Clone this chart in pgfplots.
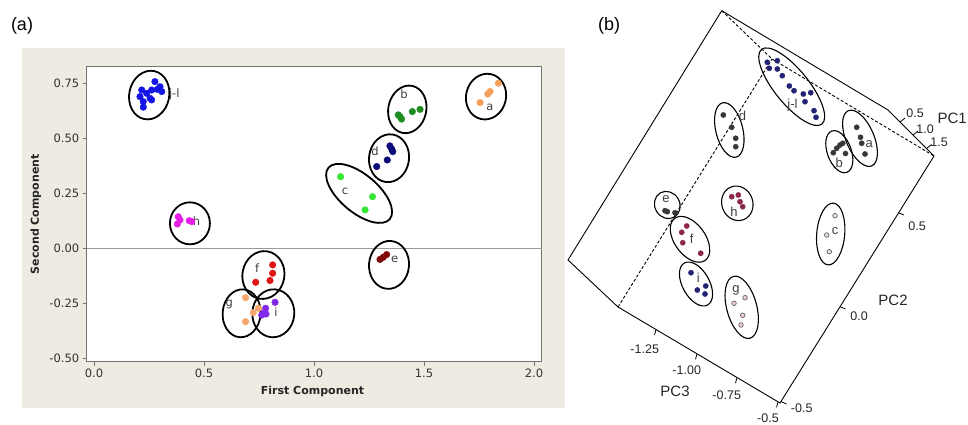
\documentclass[border=0pt]{standalone}
\usepackage{fontspec}
\setmainfont{DejaVu Sans}
\newfontfamily\arialf{Liberation Sans}
\usepackage{pgfplots}
\pgfplotsset{compat=1.18}
\usetikzlibrary{shapes.geometric}

\definecolor{beige}{RGB}{238,235,226}
\definecolor{ajl}{RGB}{20,20,230}
\definecolor{ah}{RGB}{230,30,230}
\definecolor{aa}{RGB}{245,160,90}
\definecolor{ab}{RGB}{30,140,30}
\definecolor{ad}{RGB}{10,10,120}
\definecolor{ac}{RGB}{50,230,50}
\definecolor{ae}{RGB}{128,10,10}
\definecolor{af}{RGB}{225,20,20}
\definecolor{ag}{RGB}{245,165,110}
\definecolor{ai}{RGB}{130,40,230}
\definecolor{bnavy}{RGB}{35,35,115}
\definecolor{bgrey}{RGB}{55,55,55}
\definecolor{bmaroon}{RGB}{140,40,70}
\definecolor{bpink}{RGB}{240,205,205}
\definecolor{bpale}{RGB}{215,230,215}

\tikzset{
  ellA/.style={draw=black, ellipse, inner sep=0pt, outer sep=0pt, line width=1.8pt},
  ellB/.style={draw=black, ellipse, inner sep=0pt, outer sep=0pt, line width=1.1pt},
  labA/.style={font=\fontsize{11.5}{13}\selectfont, text=black!75},
  labB/.style={font=\arialf\fontsize{13}{15}\selectfont, text=black!75},
  tlB/.style={font=\arialf\fontsize{12.5}{14}\selectfont, text=black!85},
  pcB/.style={font=\arialf\fontsize{15}{17}\selectfont, text=black!85},
}
\newcommand\EA[5]{\node[ellA, minimum width=#3pt, minimum height=#4pt, rotate=#5] at (axis cs:#1,#2) {};}
\newcommand\EB[5]{\node[ellB, minimum width=#3pt, minimum height=#4pt, rotate=#5] at (axis cs:#1,#2) {};}

\begin{document}
\begin{tikzpicture}[x=1pt,y=1pt]
\useasboundingbox (0,0) rectangle (968,425);
\fill[beige] (22,17) rectangle (565,377);
\node[font=\arialf\fontsize{18}{20}\selectfont] at (22,399) {(a)};
\node[font=\arialf\fontsize{18}{20}\selectfont] at (609,399) {(b)};

% ---------------- panel (a)
\begin{axis}[
  at={(86.7pt,63.3pt)}, anchor=south west,
  scale only axis, width=455pt, height=295pt,
  xmin=-0.0332, xmax=2.035, ymin=-0.517, ymax=0.824,
  xtick={0,0.5,1,1.5,2}, ytick={-0.5,-0.25,0,0.25,0.5,0.75},
  tick pos=left, tick align=outside, major tick length=4pt,
  axis line style={black!55, line width=0.8pt},
  tick style={black!55, line width=0.8pt},
  axis background/.style={fill=white},
  clip=false,
  /pgf/number format/assume math mode=true,
  ticklabel style={font=\fontsize{11.5}{13}\selectfont, text=black!80},
  xticklabel style={/pgf/number format/.cd, fixed, fixed zerofill, precision=1},
  yticklabel style={/pgf/number format/.cd, fixed, fixed zerofill, precision=2},
  xlabel={First Component}, ylabel={Second Component},
  label style={font=\bfseries\fontsize{11}{13}\selectfont, text=black!85},
  xlabel style={at={(axis description cs:0.4963,-0.1017)}, anchor=center},
  ylabel style={at={(axis description cs:-0.112,0.5)}, anchor=center},
  every axis plot/.append style={only marks, mark=*, mark size=3.3pt},
]
\addplot[no marks, sharp plot, black!40, line width=0.8pt] coordinates {(-0.0332,0) (2.035,0)};
\addplot[ajl, mark options={fill=ajl}] coordinates {(0.277,0.756) (0.300,0.733) (0.262,0.718) (0.217,0.718) (0.239,0.703) (0.308,0.711) (0.209,0.688) (0.255,0.680) (0.224,0.665) (0.262,0.673) (0.224,0.640) (0.288,0.721)};
\addplot[ah, mark options={fill=ah}] coordinates {(0.383,0.142) (0.379,0.109) (0.391,0.127) (0.433,0.124) (0.444,0.120)};
\addplot[aa, mark options={fill=aa}] coordinates {(1.755,0.661) (1.800,0.711) (1.838,0.749) (1.790,0.700)};
\addplot[ab, mark options={fill=ab}] coordinates {(1.383,0.605) (1.398,0.586) (1.391,0.597) (1.447,0.620) (1.482,0.630)};
\addplot[ad, mark options={fill=ad}] coordinates {(1.345,0.464) (1.358,0.438) (1.353,0.450) (1.333,0.400) (1.285,0.370)};
\addplot[ac, mark options={fill=ac}] coordinates {(1.121,0.324) (1.266,0.233) (1.232,0.173)};
\addplot[ae, mark options={fill=ae}] coordinates {(1.300,-0.052) (1.330,-0.030) (1.315,-0.042)};
\addplot[af, mark options={fill=af}] coordinates {(0.812,-0.077) (0.812,-0.115) (0.800,-0.148) (0.735,-0.156)};
\addplot[ag, mark options={fill=ag}] coordinates {(0.689,-0.226) (0.689,-0.335) (0.747,-0.274) (0.724,-0.294)};
\addplot[ai, mark options={fill=ai}] coordinates {(0.823,-0.247) (0.780,-0.274) (0.770,-0.297) (0.782,-0.300) (0.762,-0.305)};
\EA{0.251}{0.695}{40}{49}{-12}
\EA{0.436}{0.112}{40}{42}{0}
\EA{1.782}{0.688}{40}{46}{-13}
\EA{1.424}{0.630}{38}{48}{-12}
\EA{1.341}{0.408}{40}{48}{-8}
\EA{1.205}{0.248}{80}{38}{-40}
\EA{1.341}{-0.077}{40}{48}{-5}
\EA{0.770}{-0.123}{42}{48}{-10}
\EA{0.671}{-0.297}{38}{48}{-5}
\EA{0.815}{-0.297}{42}{48}{-4}
\node[labA] at (axis cs:0.365,0.700) {j-l};
\node[labA] at (axis cs:0.466,0.124) {h};
\node[labA] at (axis cs:1.800,0.640) {a};
\node[labA] at (axis cs:1.409,0.700) {b};
\node[labA] at (axis cs:1.277,0.438) {d};
\node[labA] at (axis cs:1.141,0.256) {c};
\node[labA] at (axis cs:1.367,-0.052) {e};
\node[labA] at (axis cs:0.742,-0.092) {f};
\node[labA] at (axis cs:0.615,-0.259) {g};
\node[labA] at (axis cs:0.827,-0.290) {i};
\end{axis}

% ---------------- panel (b): projected 3D view, in picture pixel coordinates
\begin{axis}[
  at={(0pt,0pt)}, anchor=south west,
  scale only axis, width=968pt, height=425pt,
  xmin=0, xmax=968, ymin=0, ymax=425, y dir=reverse,
  hide axis, clip=false,
]
% box outline
\addplot[no marks, sharp plot, black, line width=0.9pt] coordinates {(721.7,10.7) (888,110) (934,156) (780,403) (618,307) (568,260) (721.7,10.7)};
\addplot[no marks, sharp plot, black, line width=0.9pt, densely dashed] coordinates {(721.7,10.7) (772,59) (934,156)};
\addplot[no marks, sharp plot, black, line width=0.9pt, densely dashed] coordinates {(618,307) (772,59)};
% PC1 ticks
\addplot[no marks, black, line width=0.8pt] coordinates {(900,122) (905,118)}; 
\addplot[no marks, black, line width=0.8pt] coordinates {(913,135) (918,131)};
\addplot[no marks, black, line width=0.8pt] coordinates {(926.5,148.5) (931.5,144.5)};
% PC2 ticks
\addplot[no marks, black, line width=0.8pt] coordinates {(898.6,212.8) (904,215)};
\addplot[no marks, black, line width=0.8pt] coordinates {(840,306.7) (845.5,309)};
\addplot[no marks, black, line width=0.8pt] coordinates {(781,401.5) (786.5,404)};
% PC3 ticks
\addplot[no marks, black, line width=0.8pt] coordinates {(656,329.5) (654.5,335)};
\addplot[no marks, black, line width=0.8pt] coordinates {(697,353.8) (695.5,359.3)};
\addplot[no marks, black, line width=0.8pt] coordinates {(737,377.5) (735.5,383)};
\addplot[no marks, black, line width=0.8pt] coordinates {(778,401.8) (776.5,407.3)};
% points
\addplot[only marks, mark=*, mark size=2.6pt, bnavy, mark options={fill=bnavy}] coordinates {(767.3,62.3) (777.3,60.7) (769.3,68.3) (777.3,69) (782.3,75.7) (789.3,86) (794,90.7) (803.3,94) (810.7,92.7) (805,101.7) (814,110.7) (816,117.3)};
\addplot[only marks, mark=*, mark size=2.6pt, bgrey, mark options={fill=bgrey}] coordinates {(723.3,115) (731.7,127.3) (735.7,138.3) (735.7,146.7)};
\addplot[only marks, mark=*, mark size=2.6pt, bgrey, mark options={fill=bgrey}] coordinates {(856.7,127.3) (860.5,137.3) (861.7,143.3) (865,154)};
\addplot[only marks, mark=*, mark size=2.6pt, bgrey, mark options={fill=bgrey}] coordinates {(833.3,152.7) (836.7,148.3) (840,145) (842.7,143.3) (845.5,153.5)};
\addplot[only marks, mark=*, mark size=2.6pt, bgrey, mark options={fill=bgrey}] coordinates {(665,210.7) (667.3,211.7) (675,212.7)};
\addplot[only marks, mark=*, mark size=2.6pt, bmaroon, mark options={fill=bmaroon}] coordinates {(731.7,196.7) (738.3,195) (740,201.7) (742.7,206.7)};
\addplot[only marks, mark=*, mark size=2.6pt, bmaroon, mark options={fill=bmaroon}] coordinates {(686.7,226) (681.7,232.3) (682.7,242.7) (700.7,253.3)};
\addplot[only marks, mark=*, mark size=2.6pt, bnavy, mark options={fill=bnavy}] coordinates {(691,272.7) (705.7,286) (697.3,290) (705,294)};
\addplot[only marks, mark=*, mark size=2.3pt, black!60, mark options={fill=bpink, line width=0.7pt}] coordinates {(745,297.7) (734,303.3) (742.7,315.3) (741,325)};
\addplot[only marks, mark=*, mark size=2.3pt, black!60, mark options={fill=bpale, line width=0.7pt}] coordinates {(835,215.7) (826.7,235) (829.3,251.7)};
% ellipses
\EB{791.7}{86.7}{96}{34}{-51}
\EB{729.3}{130}{56}{27}{-76}
\EB{860}{138.3}{60}{28}{-67}
\EB{839.3}{151.7}{44}{24}{-70}
\EB{667.3}{205}{28}{25}{-60}
\EB{737.3}{203.3}{35}{31}{-70}
\EB{690}{239.3}{52}{31}{-54}
\EB{696}{284}{48}{27}{-61}
\EB{741.7}{307.3}{64}{30}{-75}
\EB{830.7}{234}{62}{28}{85}
% cluster labels
\node[labB] at (axis cs:792.5,105) {j-l};
\node[labB] at (axis cs:742.5,116) {d};
\node[labB] at (axis cs:869.3,144) {a};
\node[labB] at (axis cs:839.3,162.7) {b};
\node[labB] at (axis cs:666,199.3) {e};
\node[labB] at (axis cs:734,211.7) {h};
\node[labB] at (axis cs:691.7,238.3) {f};
\node[labB] at (axis cs:698.3,277.3) {i};
\node[labB] at (axis cs:736,290) {g};
\node[labB] at (axis cs:835,230.7) {c};
% axis tick labels
\node[tlB] at (axis cs:915,113) {0.5};
\node[tlB] at (axis cs:925,129) {1.0};
\node[tlB] at (axis cs:939,142.5) {1.5};
\node[pcB, anchor=east, inner sep=0pt] at (axis cs:967,118) {PC1};
\node[tlB] at (axis cs:917,226) {0.5};
\node[tlB] at (axis cs:859,316) {0.0};
\node[tlB] at (axis cs:801.7,408.5) {-0.5};
\node[pcB] at (axis cs:893,300.5) {PC2};
\node[tlB] at (axis cs:644.7,349) {-1.25};
\node[tlB] at (axis cs:686.7,370) {-1.00};
\node[tlB] at (axis cs:726.7,395) {-0.75};
\node[tlB] at (axis cs:768,418) {-0.5};
\node[pcB] at (axis cs:675,391) {PC3};
\end{axis}
\end{tikzpicture}
\end{document}
